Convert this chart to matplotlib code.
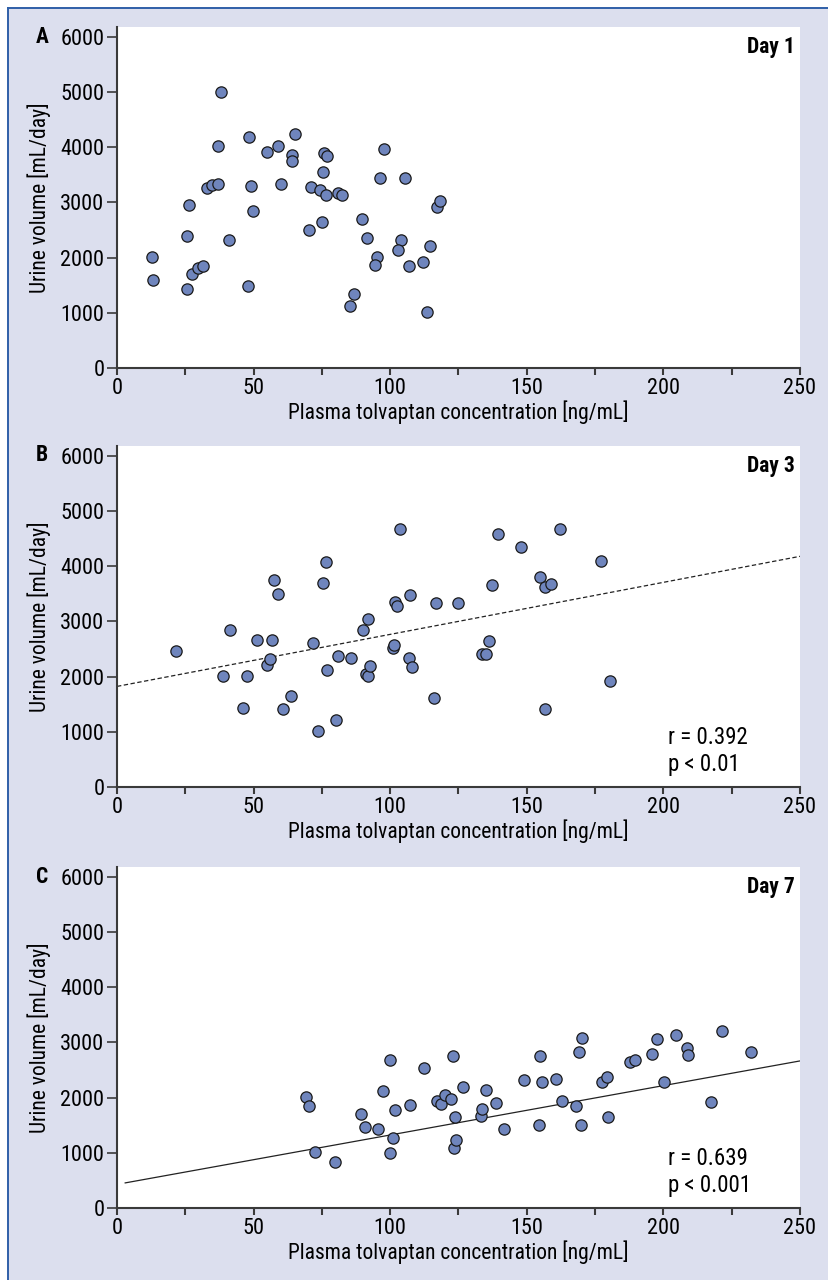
import matplotlib
matplotlib.use("Agg")
import matplotlib.pyplot as plt
from matplotlib.patches import Rectangle
from matplotlib.lines import Line2D
import numpy as np

plt.rcParams["font.family"] = ["Roboto Condensed", "Archivo Narrow", "DejaVu Sans"]
plt.rcParams["font.size"] = 15

# ---- data ----
A_X = [12.8, 13.1, 25.8, 25.8, 26.2, 27.3, 29.6, 31.6, 33.1, 34.7, 37.1, 37.1, 38.1,
       41.0, 47.8, 48.2, 49.1, 49.9, 54.9, 59.0, 60.0, 65.3, 64.2, 63.9, 70.1, 70.9,
       74.3, 75.4, 75.1, 75.9, 76.9, 76.4, 80.8, 82.5, 85.4, 86.6, 89.8, 91.5, 95.0,
       94.4, 96.4, 97.8, 103.9, 103.0, 105.5, 106.9, 112.0, 113.5, 114.4, 117.3, 118.1]
A_Y = [2017, 1598, 1440, 2400, 2959, 1695, 1817, 1853, 3256, 3323, 3335, 4016, 5000,
       2321, 1488, 4192, 3293, 2837, 3919, 4022, 3335, 4241, 3858, 3755, 2503, 3275,
       3226, 3554, 2643, 3888, 3846, 3129, 3177, 3141, 1124, 1343, 2697, 2357, 2017,
       1871, 3451, 3967, 2315, 2132, 3451, 1841, 1920, 1009, 2218, 2910, 3019]

B_X = [21.5, 38.7, 41.5, 46.1, 47.6, 51.1, 55.0, 56.1, 56.7, 57.4, 58.9, 60.7, 63.6,
       71.7, 73.7, 75.5, 76.6, 77.0, 80.3, 80.9, 85.6, 89.9, 91.2, 92.0, 92.0, 92.5,
       101.0, 101.3, 101.8, 102.6, 103.6, 106.7, 107.2, 107.9, 116.1, 116.7, 124.7,
       133.7, 135.0, 136.0, 137.2, 139.4, 147.8, 154.9, 156.6, 156.8, 158.9, 162.3,
       177.0, 180.4]
B_Y = [2460, 2017, 2843, 1434, 2017, 2661, 2205, 2315, 2667, 3755, 3505, 1410, 1646,
       2606, 1015, 3706, 4077, 2114, 1215, 2369, 2339, 2843, 2053, 2011, 3044, 2199,
       2515, 2576, 3347, 3287, 4678, 2345, 3481, 2175, 1604, 3341, 3341,
       2406, 2406, 2637, 3657, 4593, 4344, 3797, 1422, 3633, 3688, 4684,
       4101, 1914]

C_X = [69.3, 70.2, 72.5, 79.8, 89.2, 90.6, 95.4, 97.3, 100.1, 100.1, 101.0, 101.6,
       107.2, 112.2, 117.2, 118.6, 120.2, 122.1, 123.1, 123.2, 124.1, 123.8, 126.5,
       133.3, 133.5, 135.0, 138.8, 141.7, 148.9, 154.5, 154.9, 155.5, 160.7, 163.0,
       167.9, 169.0, 169.8, 170.2, 177.6, 179.4, 179.6, 187.7, 189.6, 195.7, 197.6,
       200.1, 204.6, 208.5, 208.9, 217.6, 221.5, 232.0]
C_Y = [2004, 1852, 1020, 832, 1706, 1463, 1433, 2113, 2690, 996, 1269, 1779,
       1858, 2532, 1931, 1882, 2040, 1973, 2757, 1087, 1226, 1658, 2186,
       1670, 1803, 2143, 1894, 1427, 2313, 1500, 2750, 2283, 2344, 1943,
       1852, 2823, 1506, 3072, 2289, 2380, 1658, 2641, 2678, 2799, 3066,
       2289, 3127, 2896, 2781, 1925, 3212, 2823]

# regression lines as drawn (intercept, slope, x start, x end)
B_FIT = (1823, 9.43, 0, 250)
C_FIT = (428, 8.95, 3, 250)

PANELS = [
    ("A", "Day 1", A_X, A_Y, None, None, None),
    ("B", "Day 3", B_X, B_Y, B_FIT, "--", ("r = 0.392", "p < 0.01")),
    ("C", "Day 7", C_X, C_Y, C_FIT, "-", ("r = 0.639", "p < 0.001")),
]

BG = "#dcdfee"
DOT = "#6f85bd"
SPINE = "#3a3a3a"

W, H = 829, 1280
fig = plt.figure(figsize=(W / 100, H / 100), dpi=100, facecolor="white")

# lavender panel with blue border on top and left
fig.add_artist(Rectangle((8 / W, 0), 1 - 8 / W, 1 - 8 / H, transform=fig.transFigure,
                         facecolor=BG, edgecolor="none", zorder=-10))
fig.add_artist(Line2D([8 / W, 1], [1 - 8 / H, 1 - 8 / H], transform=fig.transFigure,
                      color="#2f5fa8", lw=1.4))
fig.add_artist(Line2D([8 / W, 8 / W], [0, 1 - 8 / H], transform=fig.transFigure,
                      color="#2f5fa8", lw=1.4))

# axes boxes in pixels: (bottom of axis, top of white area)
BOXES = [(368, 27), (787, 446), (1208, 867)]
LETTER_Y = [37, 455, 877]
left, right = 117, 800

for (letter, day, xs, ys, fit, ls, stats), (bot, top), ly in zip(PANELS, BOXES, LETTER_Y):
    ax = fig.add_axes([left / W, (H - bot) / H, (right - left) / W, (bot - top) / H])
    ax.set_facecolor("white")
    ax.scatter(xs, ys, s=66, c=DOT, edgecolors="#1a1a1a", linewidths=0.9, zorder=3)
    if fit is not None:
        b0, b1, x0, x1 = fit
        fx = np.array([x0, x1])
        ax.plot(fx, b0 + b1 * fx, ls=ls, color="#222222", lw=0.9,
                dashes=(3.5, 2) if ls == "--" else (None, None), zorder=2)
    ax.set_xlim(0, 250)
    ax.set_ylim(0, 6180)
    for s in ("top", "right"):
        ax.spines[s].set_visible(False)
    for s in ("left", "bottom"):
        ax.spines[s].set_color(SPINE)
        ax.spines[s].set_linewidth(1.5)
    ax.set_yticks(range(0, 6001, 1000))
    xt = list(range(0, 251, 25))
    ax.set_xticks(xt)
    ax.set_xticklabels([str(v) if v % 50 == 0 else "" for v in xt])
    ax.tick_params(axis="x", length=5, width=1.5, color=SPINE, pad=2, labelsize=16)
    ax.tick_params(axis="y", length=7, width=1.2, color=SPINE, pad=2, labelsize=16)
    ax.set_ylabel("Urine volume [mL/day]", fontsize=15.5)
    ax.yaxis.set_label_coords(-0.097, 0.5)
    ax.set_xlabel("Plasma tolvaptan concentration [ng/mL]", fontsize=15.5)
    ax.xaxis.set_label_coords(0.5, -0.094)
    ax.text(0.993, 0.941, day, transform=ax.transAxes, ha="right", va="center",
            fontsize=15.5, fontweight="bold")
    if stats is not None:
        ax.text(201.7, 904, stats[0], ha="left", va="center", fontsize=16.5)
        ax.text(201.7, 416, stats[1], ha="left", va="center", fontsize=16.5)
    fig.text(42 / W, (H - ly) / H, letter, ha="center", va="center",
             fontsize=15.5, fontweight="bold")

fig.savefig("out.png", dpi=100, facecolor="white")
